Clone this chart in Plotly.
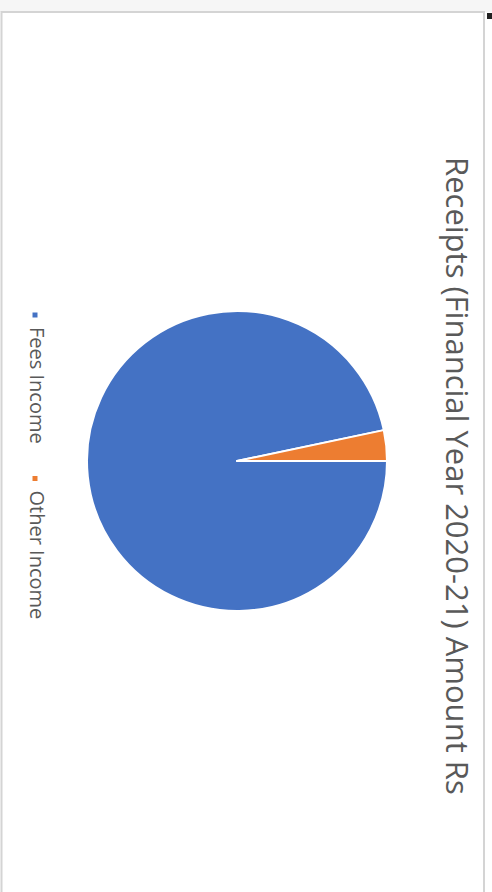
import plotly.graph_objects as go

labels = ["Fees Income", "Other Income"]
values = [96.7, 3.3]
colors = ["#4472C4", "#ED7D31"]
title_text = "Receipts (Financial Year 2020-21) Amount Rs"

W, H = 492, 892

def px(x):
    return x / W

def py(y):
    return 1 - y / H

cx, cy, r = 237, 461, 150

fig = go.Figure(go.Pie(
    labels=labels, values=values, sort=False, direction="clockwise", rotation=90,
    marker=dict(colors=colors, line=dict(color="white", width=2)),
    textinfo="none", hoverinfo="label+value", showlegend=False,
    domain=dict(x=[px(cx - r), px(cx + r)], y=[py(cy + r), py(cy - r)]),
))

shapes = [
    dict(type="rect", xref="paper", yref="paper", x0=0, x1=1, y0=py(12), y1=1,
         fillcolor="#f6f6f6", line=dict(width=0), layer="below"),
    dict(type="rect", xref="paper", yref="paper", x0=px(1.5), x1=px(484), y0=py(893), y1=py(12),
         fillcolor="white", line=dict(color="#d4d4d4", width=2), layer="below"),
    dict(type="rect", xref="paper", yref="paper", x0=px(487), x1=px(492), y0=py(19), y1=py(13),
         fillcolor="#222222", line=dict(width=0)),
]
annotations = [
    dict(text=title_text, textangle=90, xref="paper", yref="paper", x=px(458), y=py(476),
         xanchor="center", yanchor="middle", showarrow=False,
         font=dict(family="Open Sans", size=31, color="#595959")),
]
leg_y = [315, 478.5]
for lab, col, yy in zip(labels, colors, leg_y):
    shapes.append(dict(type="rect", xref="paper", yref="paper",
                       x0=px(32.5), x1=px(37.5), y0=py(yy + 2.5), y1=py(yy - 2.5),
                       fillcolor=col, line=dict(width=0)))
    annotations.append(dict(text=lab, textangle=90, xref="paper", yref="paper",
                            x=px(37.5), y=py(yy + 10), xanchor="center", yanchor="top",
                            showarrow=False,
                            font=dict(family="Open Sans", size=20, color="#595959")))

fig.update_layout(
    width=W, height=H, margin=dict(l=0, r=0, t=0, b=0),
    paper_bgcolor="white", plot_bgcolor="white",
    shapes=shapes, annotations=annotations,
)
fig.write_html("out.html", config={"displayModeBar": False},
               post_script="document.body.style.margin='0';")
